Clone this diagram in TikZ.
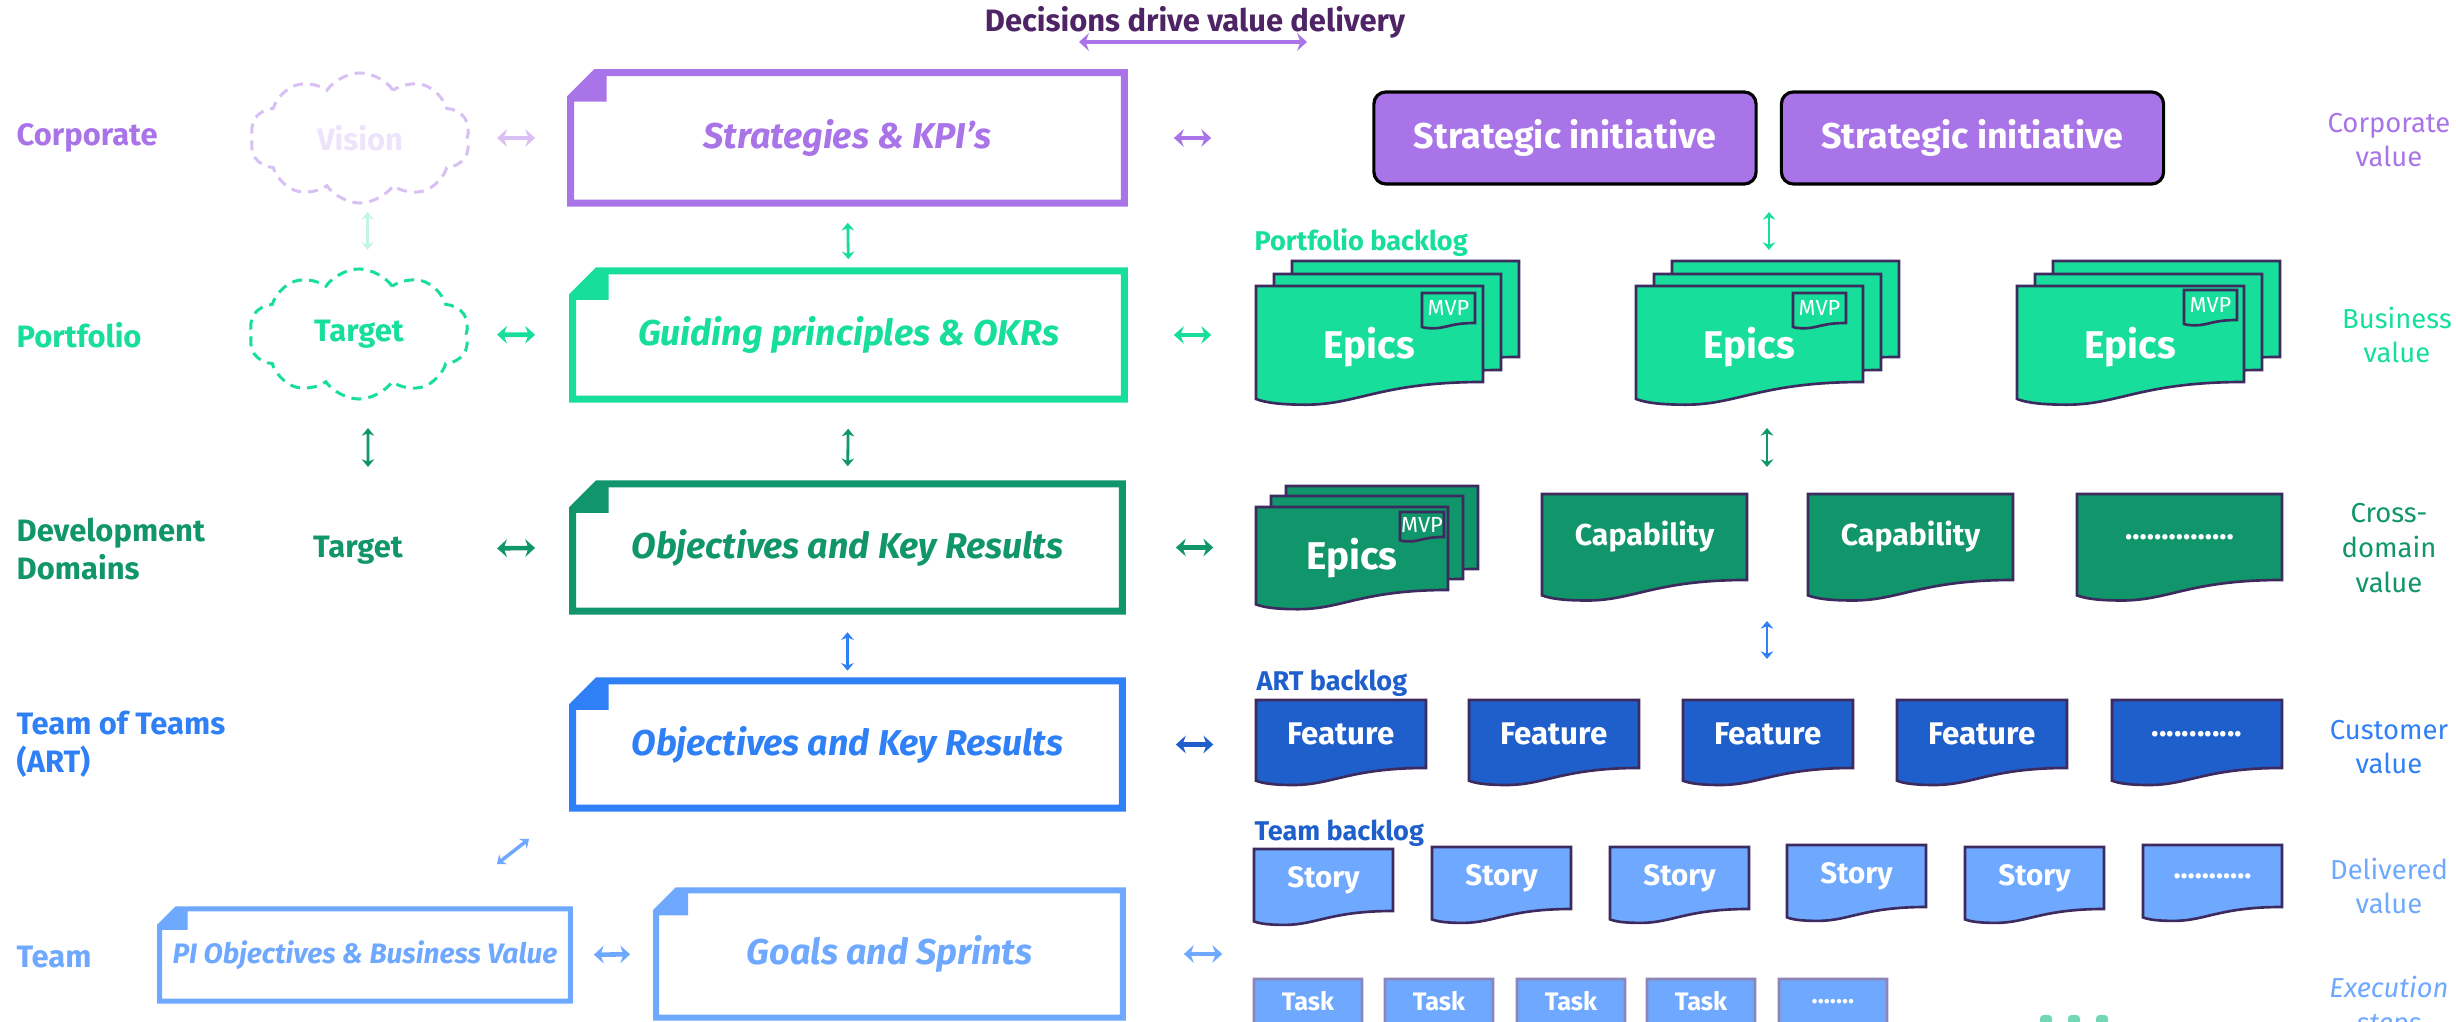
\documentclass[tikz,border=0pt]{standalone}
\usepackage{fontspec}
\setmainfont{Fira Sans}
\usetikzlibrary{arrows.meta,shapes.symbols}

\definecolor{corp}{HTML}{A974E8}
\definecolor{corpdark}{HTML}{4E2466}
\definecolor{corppale}{HTML}{D8C0F4}
\definecolor{portf}{HTML}{17DE9B}
\definecolor{portfpale}{HTML}{C4F5E1}
\definecolor{domgreen}{HTML}{11956A}
\definecolor{artblue}{HTML}{2F80F7}
\definecolor{artdark}{HTML}{1F5FCC}
\definecolor{teamblue}{HTML}{6FA8FF}
\definecolor{docline}{HTML}{3D2A5E}
\definecolor{taskline}{HTML}{8C86B8}

\tikzset{
  lvl/.style={anchor=west, align=left, inner sep=0, font=\bfseries\fontsize{8.8}{10.8}\selectfont},
  val/.style={align=center, font=\fontsize{7.8}{9.9}\selectfont},
  okr/.style={inner sep=0, font=\bfseries\itshape\fontsize{10.2}{12}\selectfont},
  backlog/.style={anchor=west, inner sep=0, font=\bfseries\fontsize{7.7}{9}\selectfont},
  hlink/.style={arrows={Stealth[length=2.8pt,width=5pt]-Stealth[length=2.8pt,width=5pt]}, line width=1.3pt},
  vlink/.style={arrows={Stealth[length=2.2pt,width=3.6pt]-Stealth[length=2.2pt,width=3.6pt]}, line width=0.8pt},
  wish/.style={cloud, cloud puffs=10, cloud puff arc=110, aspect=1.65, inner sep=0,
    minimum width=2.2cm, minimum height=1.3cm, line width=0.03cm, dash pattern=on 0.1cm off 0.07cm,
    font=\bfseries\fontsize{8.8}{10}\selectfont},
  initiative/.style={draw=black, line width=0.9pt, rounded corners=0.12cm, fill=corp, text=white,
    minimum width=3.82cm, minimum height=0.92cm, font=\bfseries\fontsize{10.2}{12}\selectfont},
  pageline/.style={draw=docline, line width=0.75pt},
  epictxt/.style={font=\bfseries\fontsize{11}{13}\selectfont, yshift=-0.13cm},
  mvptxt/.style={font=\fontsize{6.2}{7}\selectfont},
  captxt/.style={font=\bfseries\fontsize{8.6}{10}\selectfont},
  feattxt/.style={font=\bfseries\fontsize{8.9}{10}\selectfont},
  storytxt/.style={font=\bfseries\fontsize{8.4}{10}\selectfont},
  tasktxt/.style={font=\bfseries\fontsize{7.2}{8}\selectfont},
}

% page with a wavy bottom: [text opts]{name}{x}{y}{w}{h}{path opts}{text}
\newcommand{\docpage}[8][]{%
  \filldraw[pageline, #7] (#3,#4) -- ({#3+#5},#4) -- ({#3+#5},{#4+#6})
    .. controls ({#3+0.55*#5},{#4+#6}) and ({#3+0.45*#5},{#4+#6+0.1*#5}) .. ({#3+0.22*#5},{#4+#6+0.1*#5})
    .. controls ({#3+0.1*#5},{#4+#6+0.1*#5}) and ({#3+0.04*#5},{#4+#6+0.09*#5}) .. (#3,{#4+#6+0.075*#5}) -- cycle;
  \node[inner sep=0, minimum width={#5*0.01cm}, minimum height={#6*0.01cm}, text=white, #1] (#2) at ({#3+#5/2},{#4+#6/2}) {#8};
}

% frame with a folded corner round a node: {node}{colour}{line width}{fold}
\newcommand{\okrframe}[4]{%
  \draw[#2, line width=#3*0.01cm] ([xshift=#4*0.01cm]#1.north west) -- (#1.north east) -- (#1.south east) -- (#1.south west) -- ([yshift=-#4*0.01cm]#1.north west) -- cycle;
  \fill[#2] ([xshift=#4*0.01cm]#1.north west) -- ++(11,0) -- ++(0,#4+4) -- ++(-#4-11,0) -- ++(0,-4) -- cycle;
}

\begin{document}
\begin{tikzpicture}[x=0.01cm, y=-0.01cm]
\useasboundingbox (0,0) rectangle (2456,1022);
\clip (0,0) rectangle (2456,1022);

\node[font=\bfseries\fontsize{8.8}{10}\selectfont, text=corpdark] (title) at (1195,22) {Decisions drive value delivery};
\coordinate (dl) at (1079,42);
\coordinate (dr) at (1307,42);
\draw[hlink, corp] (dl) -- (dr);

% levels
\node[lvl, text=corp] (lcorp) at (16,138) {Corporate};
\node[lvl, text=portf] (lportf) at (16,335) {Portfolio};
\node[lvl, text=domgreen] (ldom) at (16,549) {Development\\Domains};
\node[lvl, text=artblue] (lart) at (16,744) {Team of Teams\\(ART)};
\node[lvl, text=teamblue] (lteam) at (16,957) {Team};

\node[wish, draw=corppale, text=corppale!45] (vision) at (360,138) {Vision};
\node[wish, draw=portf, text=portf] (target) at (359,334) {Target};
\node[font=\bfseries\fontsize{8.8}{10}\selectfont, text=domgreen] (target2) at (358,550) {Target};

% okr boxes
\node[okr, text=corp, minimum width=5.52cm, minimum height=1.29cm] (strat) at (847.5,138) {Strategies \& KPI’s};
\okrframe{strat}{corp}{7}{25}
\node[okr, text=portf, minimum width=5.50cm, minimum height=1.27cm] (guide) at (848.5,335) {Guiding principles \& OKRs};
\okrframe{guide}{portf}{7}{25}
\node[okr, text=domgreen, minimum width=5.48cm, minimum height=1.26cm] (obj) at (847.5,547.5) {Objectives and Key Results};
\okrframe{obj}{domgreen}{7}{25}
\node[okr, text=artblue, minimum width=5.48cm, minimum height=1.26cm] (artobj) at (847.5,744.5) {Objectives and Key Results};
\okrframe{artobj}{artblue}{7}{25}
\node[okr, text=teamblue, minimum width=4.09cm, minimum height=0.91cm, font=\bfseries\itshape\fontsize{8}{9}\selectfont] (pi) at (365,955) {PI Objectives \& Business Value};
\okrframe{pi}{teamblue}{5}{17}
\node[okr, text=teamblue, minimum width=4.65cm, minimum height=1.26cm] (goals) at (889.5,954) {Goals and Sprints};
\okrframe{goals}{teamblue}{6}{21}

% corporate
\node[initiative] (si1) at (1565,138) {Strategic initiative};
\node[initiative] (si2) at (1972.5,138) {Strategic initiative};

% portfolio backlog
\node[backlog, text=portf] (pbl) at (1254,243) {Portfolio backlog};
\docpage{epA3}{1292}{261}{227}{96}{fill=portf}{}
\docpage{epA2}{1274}{274}{227}{96}{fill=portf}{}
\docpage[epictxt]{epA1}{1256}{286}{227}{96}{fill=portf}{Epics}
\docpage[mvptxt]{mvpA}{1422}{293}{53}{30}{fill=portf}{MVP}
\docpage{epB3}{1672}{261}{227}{96}{fill=portf}{}
\docpage{epB2}{1654}{274}{227}{96}{fill=portf}{}
\docpage[epictxt]{epB1}{1636}{286}{227}{96}{fill=portf}{Epics}
\docpage[mvptxt]{mvpB}{1793}{293}{53}{30}{fill=portf}{MVP}
\docpage{epC3}{2053}{261}{227}{96}{fill=portf}{}
\docpage{epC2}{2035}{274}{227}{96}{fill=portf}{}
\docpage[epictxt]{epC1}{2017}{286}{227}{96}{fill=portf}{Epics}
\docpage[mvptxt]{mvpC}{2184}{290}{53}{30}{fill=portf}{MVP}

% domains
\docpage{epD3}{1286}{486}{192}{83}{fill=domgreen}{}
\docpage{epD2}{1271}{496}{192}{83}{fill=domgreen}{}
\docpage[epictxt, yshift=0.03cm]{epD1}{1256}{507}{192}{83}{fill=domgreen}{Epics}
\docpage[mvptxt]{mvpD}{1400}{512}{44}{25}{fill=domgreen}{MVP}
\docpage[captxt]{cap1}{1542}{494}{205}{86}{fill=domgreen}{Capability}
\docpage[captxt]{cap2}{1808}{494}{205}{86}{fill=domgreen}{Capability}
\docpage[captxt]{cap3}{2077}{494}{205}{86}{fill=domgreen}{...............}

% ART backlog
\node[backlog, text=artdark] (abl) at (1256,683) {ART backlog};
\docpage[feattxt]{feat1}{1256}{700}{170}{68}{fill=artdark}{Feature}
\docpage[feattxt]{feat2}{1469}{700}{170}{68}{fill=artdark}{Feature}
\docpage[feattxt]{feat3}{1683}{700}{170}{68}{fill=artdark}{Feature}
\docpage[feattxt]{feat4}{1897}{700}{170}{68}{fill=artdark}{Feature}
\docpage[feattxt]{feat5}{2112}{700}{170}{68}{fill=artdark}{............}

% team backlog
\node[backlog, text=artdark] (tbl) at (1254,833) {Team backlog};
\docpage[storytxt]{story1}{1254}{849}{139}{62}{fill=teamblue}{Story}
\docpage[storytxt]{story2}{1432}{847}{139}{62}{fill=teamblue}{Story}
\docpage[storytxt]{story3}{1610}{847}{139}{62}{fill=teamblue}{Story}
\docpage[storytxt]{story4}{1787}{845}{139}{62}{fill=teamblue}{Story}
\docpage[storytxt]{story5}{1965}{847}{139}{62}{fill=teamblue}{Story}
\docpage[storytxt]{story6}{2143}{845}{139}{62}{fill=teamblue}{...........}

\docpage[tasktxt]{task1}{1254}{979}{108}{45}{fill=teamblue, draw=taskline}{Task}
\docpage[tasktxt]{task2}{1385}{979}{108}{45}{fill=teamblue, draw=taskline}{Task}
\docpage[tasktxt]{task3}{1517}{979}{108}{45}{fill=teamblue, draw=taskline}{Task}
\docpage[tasktxt]{task4}{1647}{979}{108}{45}{fill=teamblue, draw=taskline}{Task}
\docpage[tasktxt]{task5}{1779}{979}{108}{45}{fill=teamblue, draw=taskline}{.......}

\fill[portf!55!domgreen, opacity=0.6, rounded corners=1pt] (2040,1015) rectangle ++(12,12);
\fill[portf!55!domgreen, opacity=0.6, rounded corners=1pt] (2068,1015) rectangle ++(12,12);
\fill[portf!55!domgreen, opacity=0.6, rounded corners=1pt] (2096,1015) rectangle ++(12,12);

% values
\node[val, text=corp] (vcorp) at (2389,140) {Corporate\\value};
\node[val, text=portf] (vportf) at (2397,335) {Business\\value};
\node[val, text=domgreen] (vdom) at (2389,548) {Cross-\\domain\\value};
\node[val, text=artblue] (vart) at (2389,747) {Customer\\value};
\node[val, text=teamblue] (vteam) at (2389,886) {Delivered\\value};
\node[val, text=teamblue, font=\itshape\fontsize{7.8}{9.9}\selectfont] (vtask) at (2389,1007) {Execution\\steps};

% links
\draw[hlink, corppale, shorten <=1.37cm, shorten >=0.355cm] (vision.center) -- (strat.west);
\draw[hlink, corp, shorten <=0.495cm, shorten >=1.61cm] (strat.east) -- (si1.west);
\draw[hlink, portf, shorten <=1.38cm, shorten >=0.375cm] (target.center) -- (guide.west);
\draw[hlink, portf, shorten <=0.495cm, shorten >=0.44cm] (guide.east) -- (guide.east -| epA1.west);
\draw[hlink, domgreen, shorten <=1.39cm, shorten >=0.375cm] (target2.center) -- (obj.west);
\draw[hlink, domgreen, shorten <=0.535cm, shorten >=0.42cm] (obj.east) -- (obj.east -| epD1.west);
\draw[hlink, artdark, shorten <=0.535cm, shorten >=0.42cm] (artobj.east) -- (artobj.east -| feat1.west);
\draw[hlink, teamblue, shorten <=0.235cm, shorten >=0.26cm] (pi.east) -- (goals.west);
\draw[hlink, teamblue, shorten <=0.61cm, shorten >=0.31cm] (goals.east) -- (goals.east -| story1.west);

\draw[vlink, portfpale, shorten <=0.74cm, shorten >=0.84cm] ([xshift=0.08cm]vision.center) -- ([xshift=0.08cm]target.center);
\draw[vlink, domgreen, shorten <=0.94cm, shorten >=0.83cm] ([xshift=0.09cm]target.center) -- ([xshift=0.1cm]target2.center);
\draw[vlink, portf, shorten <=0.195cm, shorten >=0.115cm] (strat.south) -- (guide.north);
\draw[vlink, domgreen, shorten <=0.295cm, shorten >=0.175cm] (guide.south) -- (obj.north);
\draw[vlink, artblue, shorten <=0.21cm, shorten >=0.1cm] (obj.south) -- (artobj.north);

\coordinate (pf1) at (1769,212);
\coordinate (pf2) at (1769,250);
\draw[vlink, portf] (pf1) -- (pf2);
\coordinate (dm1) at (1767,428);
\coordinate (dm2) at (1767,467);
\draw[vlink, domgreen] (dm1) -- (dm2);
\coordinate (ar1) at (1767,621);
\coordinate (ar2) at (1767,659);
\draw[vlink, artblue] (ar1) -- (ar2);
\coordinate (tm1) at (497,864);
\coordinate (tm2) at (529,839);
\draw[vlink, teamblue, line width=1pt] (tm1) -- (tm2);

\end{tikzpicture}
\end{document}
